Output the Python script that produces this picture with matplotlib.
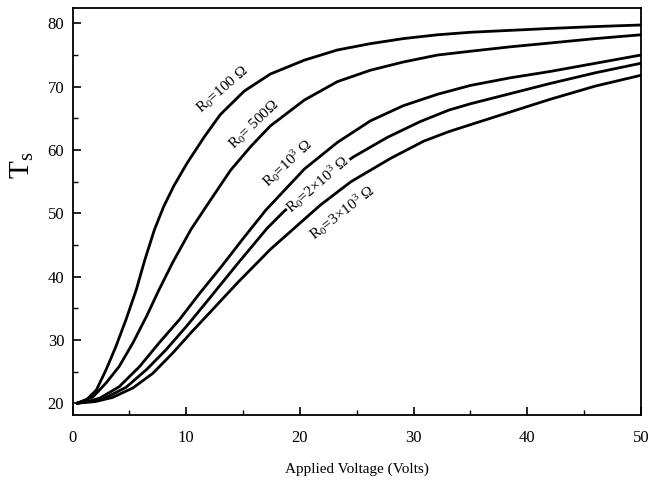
import matplotlib
matplotlib.use("Agg")
import matplotlib.pyplot as plt
from matplotlib.ticker import MultipleLocator

plt.rcParams['font.family'] = ['Liberation Serif', 'DejaVu Serif']
plt.rcParams['mathtext.fontset'] = 'custom'
plt.rcParams['mathtext.rm'] = 'Liberation Serif'
plt.rcParams['mathtext.it'] = 'Liberation Serif:italic'
plt.rcParams['mathtext.default'] = 'regular'

# Ts vs applied voltage, one curve per R0
v_100 = [0.4, 1.2, 2.1, 2.95, 3.8, 4.7, 5.6, 6.35, 7.2, 8.0, 8.9, 10.1, 11.6, 13.0,
         15.1, 17.4, 20.4, 23.3, 26.2, 29.1, 32.1, 35.0, 38.5, 42.0, 46.0, 50.0]
t_100 = [20.0, 20.5, 22.1, 25.3, 28.9, 33.2, 37.9, 42.6, 47.4, 51.0, 54.3, 58.0, 62.1, 65.6,
         69.3, 72.0, 74.2, 75.8, 76.8, 77.6, 78.2, 78.6, 78.9, 79.2, 79.5, 79.75]

v_500 = [0.4, 1.8, 2.95, 4.1, 5.3, 6.5, 7.6, 8.8, 10.4, 11.8, 13.9, 15.7, 17.4, 20.4,
         23.3, 26.2, 29.1, 32.1, 35.0, 38.5, 42.0, 46.0, 50.0]
t_500 = [20.0, 21.0, 23.2, 25.8, 29.5, 33.7, 37.9, 42.2, 47.4, 51.2, 56.8, 60.6, 63.8, 67.9,
         70.8, 72.6, 73.9, 75.0, 75.6, 76.3, 76.9, 77.6, 78.2]

v_1k = [0.4, 1.4, 2.4, 4.1, 5.9, 7.6, 9.4, 11.2, 13.1, 15.0, 17.0, 20.4, 23.3, 26.2, 29.1,
        32.1, 35.0, 38.5, 42.0, 46.0, 50.0]
t_1k = [20.0, 20.3, 20.8, 22.6, 25.8, 29.5, 33.2, 37.4, 41.6, 46.0, 50.5, 57.0, 61.2, 64.6,
        67.0, 68.8, 70.2, 71.4, 72.4, 73.7, 75.0]

v_2k = [0.4, 1.7, 2.95, 4.7, 6.5, 8.2, 10.0, 11.7, 13.1, 14.5, 17.1, 18.6, 21.5, 24.7, 27.7,
        30.6, 33.1, 35.0, 38.5, 42.0, 46.0, 50.0]
t_2k = [20.0, 20.3, 20.9, 22.5, 25.3, 28.4, 32.1, 35.8, 38.9, 42.0, 47.6, 50.3, 54.8, 58.9,
        62.0, 64.5, 66.3, 67.3, 68.9, 70.5, 72.2, 73.7]

v_3k = [0.4, 2.0, 3.5, 5.3, 7.05, 8.8, 10.6, 11.7, 13.1, 14.5, 17.4, 21.8, 24.5, 28.0, 30.9,
        33.1, 35.0, 38.5, 42.0, 46.0, 50.0]
t_3k = [20.0, 20.25, 20.9, 22.4, 24.7, 27.9, 31.5, 33.6, 36.3, 39.0, 44.3, 51.3, 55.0, 58.7,
        61.4, 62.9, 64.0, 66.0, 68.0, 70.1, 71.8]

labels = [r'R$_0$=100 Ω', r'R$_0$= 500Ω', r'R$_0$=10$^3$ Ω',
          r'R$_0$=2×10$^3$ Ω', r'R$_0$=3×10$^3$ Ω']
label_x = [13.2, 16.0, 18.9, 21.6, 23.7]
label_y = [69.5, 64.0, 57.9, 54.6, 50.0]
label_rot = [41, 44, 43, 41, 38]

fig = plt.figure(figsize=(6.48, 4.83), dpi=100)
ax = fig.add_axes([0.112, 0.141, 0.877, 0.842])

for v, t in [(v_100, t_100), (v_500, t_500), (v_1k, t_1k), (v_2k, t_2k), (v_3k, t_3k)]:
    ax.plot(v, t, color='black', lw=2.0, solid_capstyle='round', solid_joinstyle='round')

for i, txt in enumerate(labels):
    kw = {}
    if i == 3:
        # this label sits inside a gap of its own curve
        kw['bbox'] = dict(facecolor='white', edgecolor='none', pad=0.5)
    ax.text(label_x[i], label_y[i], txt, rotation=label_rot[i], fontsize=11,
            ha='center', va='center', rotation_mode='anchor', **kw)

ax.set_xlim(0, 50)
ax.set_ylim(18.15, 82.4)
ax.xaxis.set_major_locator(MultipleLocator(10))
ax.xaxis.set_minor_locator(MultipleLocator(5))
ax.yaxis.set_major_locator(MultipleLocator(10))
ax.yaxis.set_minor_locator(MultipleLocator(5))
ax.tick_params(which='both', direction='in', top=False, right=False, labelsize=12)
ax.tick_params(which='major', length=6, width=1.2)
ax.tick_params(which='minor', length=3.5, width=1.0)
ax.tick_params(axis='x', pad=11)
ax.tick_params(axis='y', pad=6)
for s in ax.spines.values():
    s.set_linewidth(1.3)

ax.set_xlabel('Applied Voltage (Volts)', fontsize=11, labelpad=12)
ax.set_ylabel(r'T$_s$', fontsize=21, va='center')
ax.yaxis.set_label_coords(-0.088, 0.614)

fig.savefig('out.png', dpi=100)
